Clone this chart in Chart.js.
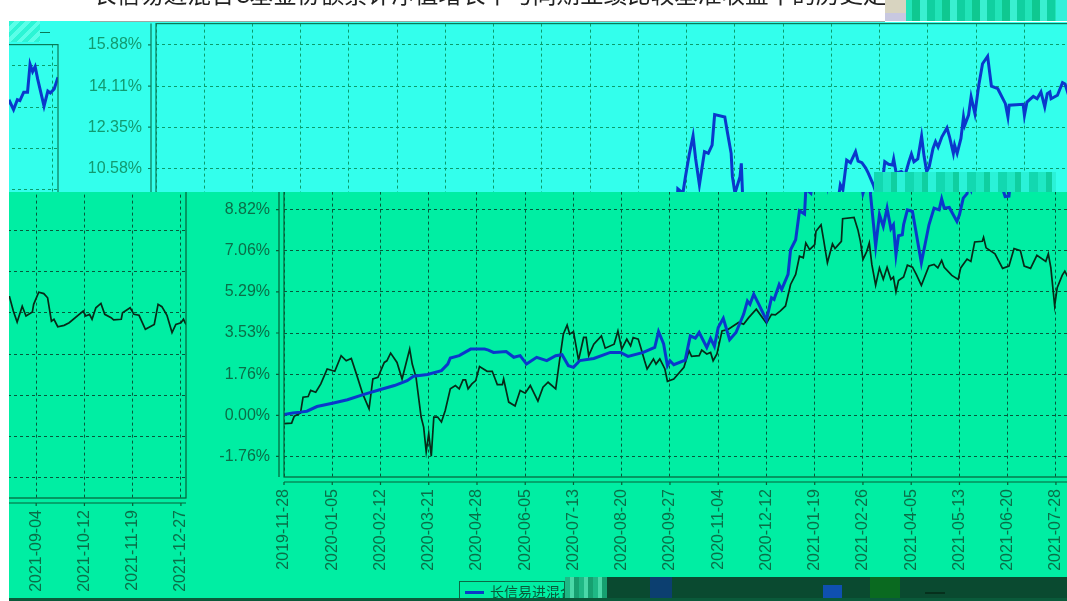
<!DOCTYPE html>
<html>
<head>
<meta charset="utf-8">
<script src="https://cdn.jsdelivr.net/npm/chart.js@4"></script>
<style>
html, body { margin: 0; padding: 0; background: #fff; }
#page { position: relative; width: 1067px; height: 601px; overflow: hidden; background: #fff; }
.win { position: absolute; overflow: hidden; }
.win canvas { position: absolute; filter: blur(0.45px); }
.blk { position: absolute; }
#titulo { position: absolute; left: 93px; top: -24px; font: 23.6px "Noto Sans CJK SC"; color: #222; white-space: nowrap; filter: blur(0.4px); }
#leyenda { position: absolute; left: 459px; top: 581px; width: 106px; height: 17px; border: 1px solid #0a6a45; border-bottom: 0; box-sizing: border-box; overflow: hidden; }
#leyenda i { position: absolute; left: 5px; top: 9px; width: 19px; height: 3px; background: #0b3ac8; }
#leyenda span { position: absolute; left: 30px; top: -1px; font: 14px "Noto Sans CJK SC"; color: #0a5a3a; white-space: nowrap; }
</style>
</head>
<body>
<div id="page">
    <div id="titulo"></div>
</div>
<script>
const seriesNames = ['长信易进混合C', '业绩比较基准'];
const titleText = '长信易进混合C基金份额累计净值增长率与同期业绩比较基准收益率的历史走势';

const tickDates = ['2019-11-28','2020-01-05','2020-02-12','2020-03-21','2020-04-28','2020-06-05','2020-07-13',
    '2020-08-20','2020-09-27','2020-11-04','2020-12-12','2021-01-19','2021-02-26','2021-04-05','2021-05-13',
    '2021-06-20','2021-07-28','2021-09-04','2021-10-12','2021-11-19','2021-12-27'];
const tickDays = [0,38,76,114,152,190,228,266,304,342,380,418,456,494,532,570,608,646,684,722,760];
const yTicks = [15.88,14.11,12.35,10.58,8.82,7.06,5.29,3.53,1.76,0,-1.76];

// dias desde 2019-11-28 y valor en %
const fundDays = [0,7,13,18,26,39,50,63,76,87,97,102,113,124,129,131,138,147,158,161,165,175,181,186,191,199,207,214,219,
    224,228,233,244,257,265,271,283,292,295,298,299,302,304,307,316,320,324,327,333,336,339,342,346,351,356,362,365,367,
    370,374,380,384,386,390,392,397,399,403,406,410,411,415,417,420,423,425,428,432,435,438,440,448,450,453,454,456,460,
    461,462,466,469,472,475,478,480,482,484,487,488,491,495,502,508,512,516,518,520,524,530,532,535,538,539,541,544,547,
    551,553,556,559,561,565,568,571,573,574,577,580,581,583,587,590,593,595,597,600,603,605,607,609,612,614,616,619,623,
    625,628,629,631,634,636,637,640,642,645,648,651,655,658,663,669,671,672,683,684,686,691,694,697,700,702,704,705,710,
    714,716,718,726,729,732,734,737,740,742,744,746,748,753,756,758,761,764];
const fundValues = [0.04,0.10,0.14,0.18,0.38,0.53,0.67,0.90,1.11,1.28,1.49,1.68,1.75,1.92,2.20,2.46,2.56,2.84,2.84,2.80,2.70,
    2.74,2.49,2.56,2.20,2.49,2.35,2.56,2.60,2.13,2.06,2.35,2.44,2.70,2.70,2.53,2.70,2.91,3.59,3.20,3.06,2.13,2.34,2.17,2.37,
    3.41,3.31,3.55,2.91,3.30,2.96,3.77,4.16,3.24,3.55,4.33,4.90,4.76,5.19,4.76,4.08,5.04,4.97,5.61,5.40,6.04,7.10,7.53,8.77,
    8.63,9.71,9.52,10.23,11.18,11.98,11.01,9.88,11.30,11.23,11.58,12.89,12.79,12.15,11.23,10.23,9.52,10.23,10.80,9.45,7.25,
    8.60,8.10,8.88,8.00,8.17,6.89,7.70,7.74,8.17,8.81,8.74,6.54,8.17,8.88,8.81,9.28,8.88,8.91,8.31,8.60,9.31,9.50,9.88,9.66,
    10.94,10.83,11.30,10.90,10.83,10.60,10.38,9.88,9.38,9.40,10.38,10.87,10.76,10.73,10.99,10.38,10.45,10.30,10.87,11.20,
    10.87,10.99,11.97,11.09,10.45,10.66,11.44,11.73,11.50,11.94,12.32,11.94,11.23,11.58,11.23,11.87,12.79,12.44,12.87,13.65,
    12.93,14.14,15.07,15.39,14.11,14.00,13.36,12.79,13.29,13.33,12.86,13.43,13.67,13.57,13.86,13.22,13.79,13.86,13.57,13.72,
    14.26,14.20,13.86,14.35,14.00,14.43,14.39,14.75,14.75,15.95,15.63,15.85,15.31,14.15,14.80,14.72,14.89,15.39];

const benchDays = [0,6,8,13,15,19,21,25,29,34,40,45,49,53,57,62,67,70,74,79,81,84,89,93,96,99,101,104,108,110,112,114,116,
    118,121,124,127,131,135,138,141,143,145,148,151,154,160,164,168,172,173,177,182,186,190,194,200,204,208,214,217,220,223,
    225,228,232,236,238,240,244,250,253,260,263,266,270,273,275,279,281,284,286,291,293,296,300,302,307,315,319,321,327,329,
    333,336,338,341,345,350,358,362,366,372,380,384,387,391,395,399,403,406,409,411,414,418,419,423,425,428,432,434,439,440,
    449,452,454,456,459,461,463,466,469,472,475,478,480,482,484,488,491,495,498,502,508,512,515,518,520,526,531,533,538,541,
    544,550,551,553,560,566,571,575,580,583,588,593,600,602,604,607,609,613,615,617,625,628,631,635,638,643,644,648,652,655,
    658,660,663,668,672,683,685,688,690,693,697,700,705,707,713,714,720,723,727,732,739,742,745,749,753,756,760,762,764];
const benchValues = [-0.35,-0.33,-0.04,0.10,0.78,0.81,1.07,0.99,1.35,1.99,1.89,2.56,2.34,2.44,1.78,0.92,0.28,1.56,1.63,2.27,
    2.34,2.67,2.27,1.56,2.20,2.84,2.20,1.63,-0.07,-0.50,-1.56,-0.78,-1.75,-0.07,-0.07,-0.28,0.21,1.14,1.28,1.14,1.52,1.52,1.14,
    1.35,1.49,2.09,1.89,1.89,1.32,1.32,1.56,0.57,0.40,1.07,0.95,1.28,0.61,1.21,1.42,1.14,2.34,3.48,3.87,3.48,3.59,2.37,3.34,3.34,
    2.56,3.05,3.41,2.88,3.05,3.62,2.84,3.27,2.98,3.34,3.27,2.91,2.34,1.99,2.42,2.20,2.42,1.99,1.46,1.56,2.06,2.77,2.53,2.56,2.80,
    2.63,2.70,2.34,2.63,3.62,3.69,3.98,3.91,4.19,4.55,3.95,4.33,4.31,4.48,4.69,5.61,6.04,6.82,6.75,7.39,7.10,7.32,7.89,8.17,7.53,
    6.54,7.35,7.15,7.46,8.43,8.48,7.96,7.46,6.68,7.03,7.39,6.47,5.58,6.32,5.83,6.35,5.83,5.93,5.29,5.78,5.93,6.44,6.35,6.04,5.57,
    6.40,6.47,6.32,6.64,6.35,6.00,5.83,6.32,6.70,6.60,7.43,7.46,7.63,7.18,6.92,6.30,6.40,7.15,7.06,6.40,6.30,6.86,6.60,6.92,6.32,
    4.69,5.47,6.01,6.18,5.97,5.98,5.37,4.90,5.58,5.16,5.33,5.66,6.18,6.12,5.94,4.94,5.02,4.70,4.76,4.87,5.37,5.16,5.23,5.02,5.51,
    5.70,5.23,5.09,4.99,5.02,5.30,5.51,5.23,5.19,4.59,4.80,5.66,5.56,5.19,4.45,4.80,4.87,5.02,4.80];

const upperBand = { bg: '#33ffec', grid: '#0a9c6c', text: '#129a70', frame: '#0a7a58', fund: '#0a38cc' };
const lowerBand = { bg: '#00eea3', grid: '#05583a', text: '#0a6e48', frame: '#066038', fund: '#0a38cc' };

const CANVAS_W = 1300, CANVAS_H = 640;

// marco doble del grafico, sale de chartArea y de las escalas
const marcoPlugin = {
    id: 'marco',
    afterDraw(chart, args, opts) {
        const c = chart.ctx, a = chart.chartArea, sx = chart.scales.x, sy = chart.scales.y;
        c.save();
        c.strokeStyle = opts.color;
        c.lineWidth = 1.2;
        c.strokeRect(a.left, a.top, a.right - a.left, a.bottom - a.top);
        c.beginPath();
        c.moveTo(a.left - 5, a.top); c.lineTo(a.left - 5, a.bottom);
        c.moveTo(a.left, a.bottom + 5); c.lineTo(a.right, a.bottom + 5);
        sx.ticks.forEach(t => {
            const px = sx.getPixelForValue(t.value);
            c.moveTo(px, a.bottom + 5); c.lineTo(px, a.bottom + 8);
        });
        sy.ticks.forEach(t => {
            const py = sy.getPixelForValue(t.value);
            c.moveTo(a.left - 5, py); c.lineTo(a.left - 8, py);
        });
        c.stroke();
        c.restore();
    }
};

function crearGrafico(canvas, band) {
    return new Chart(canvas.getContext('2d'), {
        type: 'line',
        plugins: [marcoPlugin],
        data: {
            datasets: [{
                label: seriesNames[0],
                data: fundDays.map((d, i) => ({ x: d, y: fundValues[i] })),
                borderColor: band.fund,
                borderWidth: 3,
                pointRadius: 0,
                tension: 0
            }, {
                label: seriesNames[1],
                data: benchDays.map((d, i) => ({ x: d, y: benchValues[i] })),
                borderColor: '#062a18',
                borderWidth: 1.7,
                pointRadius: 0,
                tension: 0
            }]
        },
        options: {
            responsive: false,
            animation: false,
            devicePixelRatio: 1,
            layout: { padding: { top: 21, right: 46, left: 0, bottom: 0 } },
            plugins: { legend: { display: false }, tooltip: { enabled: false }, marco: { color: band.frame } },
            scales: {
                x: {
                    type: 'linear',
                    min: 0,
                    max: 764,
                    afterBuildTicks: s => { s.ticks = tickDays.map(v => ({ value: v })); },
                    afterFit: s => { s.height = CANVAS_H - 477; },
                    grid: { color: band.grid, drawTicks: false },
                    border: { display: false, dash: [3, 3] },
                    ticks: {
                        autoSkip: false,
                        minRotation: 90,
                        maxRotation: 90,
                        padding: 12,
                        color: band.text,
                        font: { family: 'Liberation Sans', size: 16 },
                        callback: v => tickDates[tickDays.indexOf(v)]
                    }
                },
                y: {
                    type: 'linear',
                    min: -2.64,
                    max: 16.79,
                    afterBuildTicks: s => { s.ticks = yTicks.map(v => ({ value: v })); },
                    afterFit: s => { s.width = 284; },
                    grid: { color: band.grid, drawTicks: false },
                    border: { display: false, dash: [3, 3] },
                    ticks: {
                        padding: 14,
                        color: band.text,
                        font: { family: 'Liberation Sans', size: 16 },
                        callback: v => v.toFixed(2) + '%'
                    }
                }
            }
        }
    });
}

const page = document.getElementById('page');

// cada ventana muestra el mismo grafico desplazado (dx, dy)
function ventana(left, top, w, h, dx, dy, band) {
    const win = document.createElement('div');
    win.className = 'win';
    win.style.cssText = `left:${left}px;top:${top}px;width:${w}px;height:${h}px;background:${band.bg}`;
    const cv = document.createElement('canvas');
    cv.width = CANVAS_W;
    cv.height = CANVAS_H;
    cv.style.cssText = `left:${dx - left}px;top:${dy - top}px;width:${CANVAS_W}px;height:${CANVAS_H}px`;
    win.appendChild(cv);
    page.appendChild(win);
    crearGrafico(cv, band);
}

function bloque(left, top, w, h, bg) {
    const d = document.createElement('div');
    d.className = 'blk';
    d.style.cssText = `left:${left}px;top:${top}px;width:${w}px;height:${h}px;background:${bg}`;
    page.appendChild(d);
}

document.getElementById('titulo').textContent = titleText;

ventana(58, 22, 1009, 170, -128, 0, upperBand);
ventana(9, 22, 49.5, 170, -1196, 21, upperBand);
ventana(187, 192, 880, 406, 0, 0, lowerBand);
ventana(9, 192, 178, 406, -1068, 21, lowerBand);

// zonas dañadas de la imagen original
const ruido = 'repeating-linear-gradient(90deg,#12d8b0 0 9px,#1fe8c4 9px 17px,#0fcfa0 17px 23px,#2af2d8 23px 31px)';
bloque(90, 21, 795, 1, '#9aa8a4');
bloque(9, 21, 81, 1, '#33ffec');
bloque(874, 172, 182, 20, ruido);
bloque(905, 0, 151, 21, 'repeating-linear-gradient(90deg,#22e4b8 0 7px,#0fc890 7px 15px,#3af0d0 15px 22px,#10d0a0 22px 30px)');
bloque(1056, 0, 11, 21, '#34f0da');
bloque(885, 0, 21, 21, 'linear-gradient(180deg,#d8d4c0 0 60%,#c8c8e0 60%)');
bloque(9, 21, 31, 21, 'repeating-linear-gradient(135deg,#2cf5d5 0 4px,#5affe8 4px 8px)');
bloque(40, 32, 10, 1, upperBand.frame);

bloque(607, 577, 460, 21, '#0a4a30');
bloque(565, 577, 42, 21, 'repeating-linear-gradient(90deg,#1fb885 0 5px,#4ad8a8 5px 9px,#16a070 9px 14px)');
bloque(650, 577, 22, 21, '#0c3f70');
bloque(823, 585, 19, 13, '#0f50b0');
bloque(870, 577, 30, 21, '#0a6a20');
bloque(925, 592, 20, 2, '#06301c');
bloque(9, 598, 1058, 3, '#0a5a3a');

const ley = document.createElement('div');
ley.id = 'leyenda';
ley.innerHTML = '<i></i><span></span>';
ley.querySelector('span').textContent = seriesNames[0];
page.appendChild(ley);
</script>
</body>
</html>
